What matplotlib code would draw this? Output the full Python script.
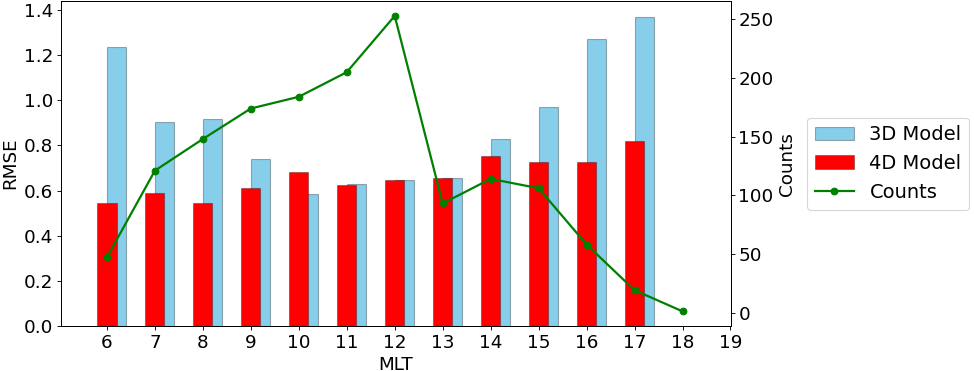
import numpy as np
import matplotlib.pyplot as plt

# MLT 구간
mlt = [6, 7, 8, 9, 10, 11, 12, 13, 14, 15, 16, 17]
rmse_3d = [1.235, 0.905, 0.915, 0.74, 0.585, 0.63, 0.645, 0.655, 0.83, 0.97, 1.27, 1.37]
rmse_4d = [0.545, 0.59, 0.545, 0.61, 0.68, 0.625, 0.645, 0.655, 0.755, 0.725, 0.725, 0.82]

# 카운트 (18 포함)
count_mlt = [6, 7, 8, 9, 10, 11, 12, 13, 14, 15, 16, 17, 18]
counts = [47, 121, 148, 174, 184, 205, 253, 93, 114, 106, 58, 19, 1]

plt.rcParams['font.size'] = 16.5

fig, ax = plt.subplots(figsize=(974 / 80, 371 / 80), dpi=80)
edge = (0, 0, 0, 0.3)

b1 = ax.bar(mlt, rmse_3d, width=0.4, align='edge', color='skyblue',
            edgecolor=edge, label='3D Model')
b2 = ax.bar(mlt, rmse_4d, width=0.4, color='red',
            edgecolor=edge, label='4D Model')
ax.set_xlabel('MLT')
ax.set_ylabel('RMSE')
ax.set_xticks(range(6, 20))
ax.set_yticks(np.arange(0, 1.41, 0.2))
ax.set_xlim(5.04, 19)

ax2 = ax.twinx()
l1, = ax2.plot(count_mlt, counts, color='green', marker='o',
               linewidth=2, label='Counts')
ax2.set_ylabel('Counts')

handles = [b1, b2, l1]
ax.legend(handles, [h.get_label() for h in handles], loc='center left',
          bbox_to_anchor=(1.1, 0.5), fontsize=17.5)

fig.subplots_adjust(left=0.0625, right=0.75, top=0.997, bottom=0.121)
plt.savefig('out.png', dpi=80)
